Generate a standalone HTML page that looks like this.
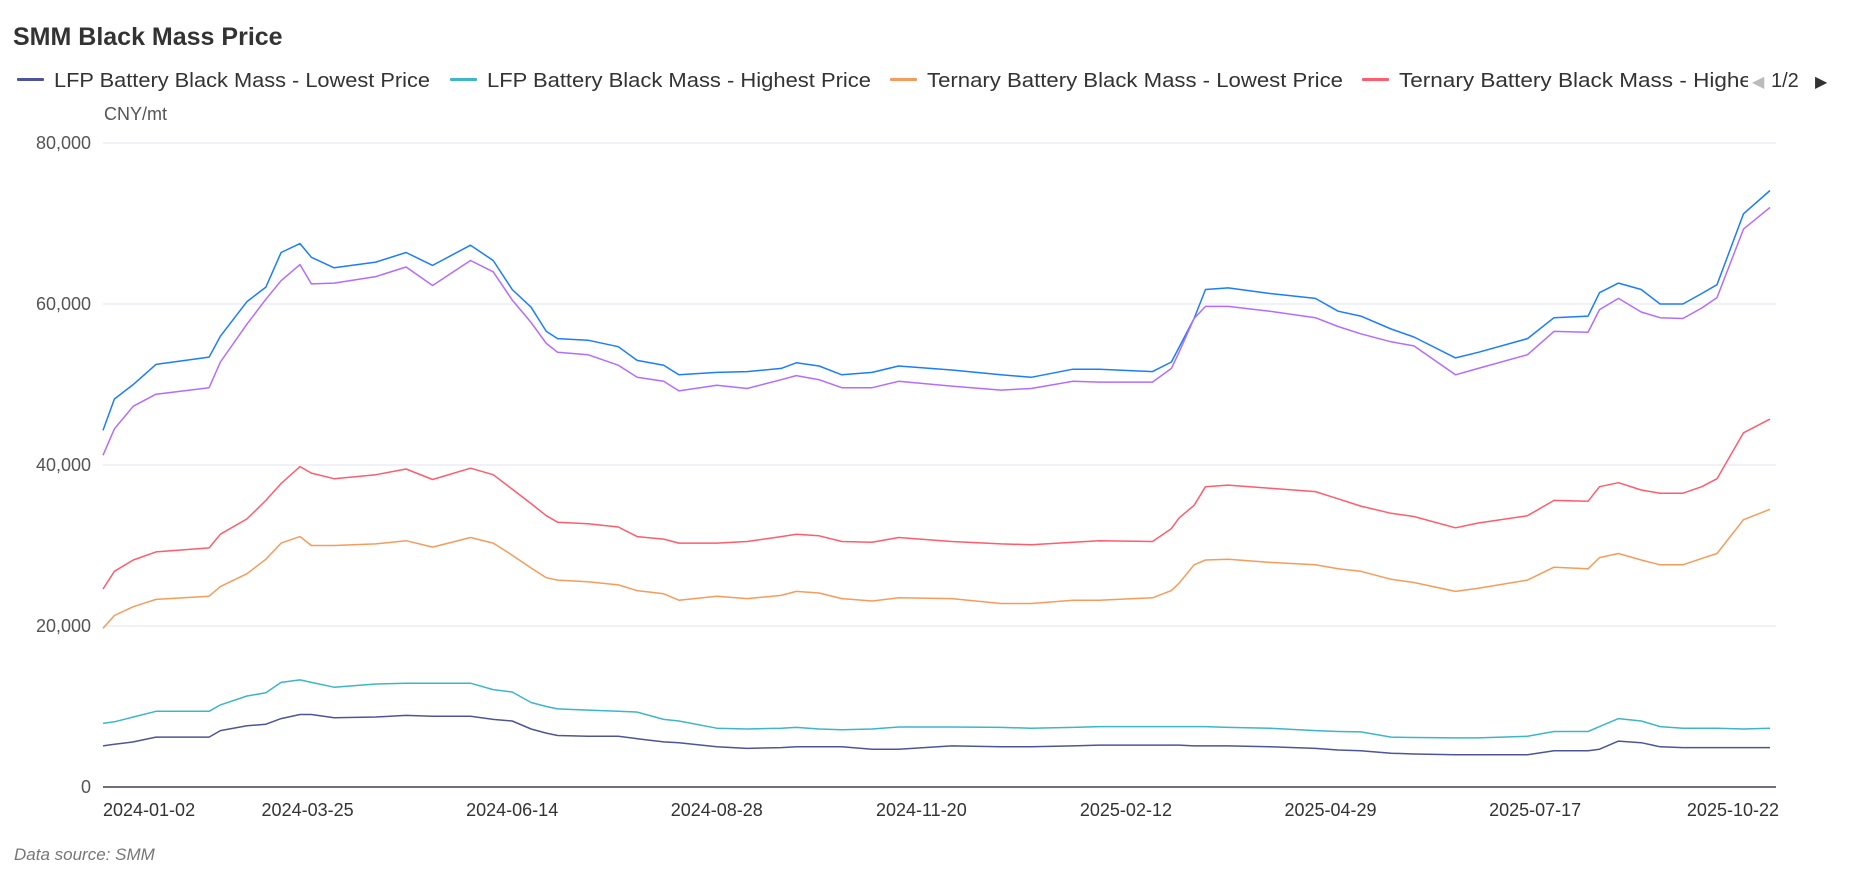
<!DOCTYPE html>
<html><head><meta charset="utf-8"><style>
html,body{margin:0;padding:0;background:#fff;}
svg{display:block;font-family:"Liberation Sans",sans-serif;}
</style></head><body>
<svg id="chart" width="1854" height="880" viewBox="0 0 1854 880" xmlns="http://www.w3.org/2000/svg">
<defs><clipPath id="legclip"><rect x="0" y="55" width="1748" height="50"/></clipPath></defs>
<text x="13" y="45" font-size="25" font-weight="bold" fill="#333">SMM Black Mass Price</text>
<g id="legend" clip-path="url(#legclip)"></g>
<text x="1752" y="87" font-size="16" fill="#bbb">◀</text>
<text x="1771" y="87" font-size="20" fill="#333">1/2</text>
<text x="1815" y="87" font-size="16" fill="#333">▶</text>
<text x="104" y="120" font-size="18" fill="#555">CNY/mt</text>
<g id="grid"></g>
<g id="series"></g>
<g id="xlabels"></g>
<text x="14" y="860" font-size="17" font-style="italic" fill="#777">Data source:  SMM</text>
</svg>
<script>
const dayIndex=[0,3,8,14,28,31,38,43,47,52,55,61,72,80,87,97,103,108,113,117,120,128,136,141,148,152,162,170,179,183,189,195,203,210,224,237,245,256,263,277,282,284,288,291,297,308,320,326,332,340,346,357,363,376,383,392,395,400,406,411,417,422,426,433,440];
const lfpLow=[5.1,5.3,5.6,6.2,6.2,7.0,7.6,7.8,8.5,9.0,9.0,8.6,8.7,8.9,8.8,8.8,8.4,8.2,7.2,6.7,6.4,6.3,6.3,6.0,5.6,5.5,5.0,4.8,4.9,5.0,5.0,5.0,4.7,4.7,5.1,5.0,5.0,5.1,5.2,5.2,5.2,5.2,5.1,5.1,5.1,5.0,4.8,4.6,4.5,4.2,4.1,4.0,4.0,4.0,4.5,4.5,4.7,5.7,5.5,5.0,4.9,4.9,4.9,4.9,4.9];
const lfpHigh=[7.9,8.1,8.7,9.4,9.4,10.2,11.3,11.7,13.0,13.3,13.0,12.4,12.8,12.9,12.9,12.9,12.1,11.8,10.5,10.0,9.7,9.55,9.4,9.3,8.4,8.2,7.3,7.2,7.3,7.4,7.2,7.1,7.2,7.45,7.45,7.4,7.3,7.4,7.5,7.5,7.5,7.5,7.5,7.5,7.4,7.3,7.0,6.9,6.85,6.2,6.15,6.1,6.1,6.3,6.9,6.9,7.5,8.5,8.2,7.5,7.3,7.3,7.3,7.2,7.3];
const ternLow=[19.7,21.3,22.4,23.3,23.7,24.9,26.5,28.3,30.3,31.1,30.0,30.0,30.2,30.6,29.8,31.0,30.3,28.8,27.2,26.0,25.7,25.5,25.1,24.4,24.0,23.2,23.7,23.4,23.8,24.3,24.1,23.4,23.1,23.5,23.4,22.8,22.8,23.2,23.2,23.5,24.4,25.3,27.6,28.2,28.3,27.9,27.6,27.1,26.8,25.8,25.4,24.3,24.7,25.7,27.3,27.1,28.5,29.0,28.2,27.6,27.6,28.4,29.0,33.2,34.5];
const ternHigh=[24.6,26.8,28.2,29.2,29.7,31.4,33.3,35.6,37.7,39.8,39.0,38.3,38.8,39.5,38.2,39.6,38.8,37.0,35.2,33.7,32.9,32.7,32.3,31.1,30.8,30.3,30.3,30.5,31.1,31.4,31.2,30.5,30.4,31.0,30.5,30.2,30.1,30.4,30.6,30.5,32.1,33.4,35.0,37.3,37.5,37.1,36.7,35.8,34.9,34.0,33.6,32.2,32.8,33.7,35.6,35.5,37.3,37.8,36.9,36.5,36.5,37.3,38.3,44.0,45.7];
const lcoHigh=[44.3,48.2,50.0,52.5,53.4,56.0,60.3,62.1,66.4,67.5,65.8,64.5,65.2,66.4,64.8,67.3,65.4,61.8,59.6,56.6,55.7,55.5,54.7,53.0,52.4,51.2,51.5,51.6,52.0,52.7,52.3,51.2,51.5,52.3,51.8,51.2,50.9,51.9,51.9,51.6,52.8,54.6,58.2,61.8,62.0,61.3,60.7,59.1,58.5,56.9,55.9,53.3,54.0,55.7,58.3,58.5,61.4,62.6,61.8,60.0,60.0,61.3,62.4,71.2,74.1];
const lcoLow=[41.2,44.5,47.3,48.8,49.6,52.8,57.5,60.6,62.9,64.9,62.5,62.6,63.4,64.6,62.3,65.4,64.0,60.5,57.7,55.1,54.0,53.7,52.4,50.9,50.4,49.2,49.9,49.5,50.6,51.1,50.6,49.6,49.6,50.4,49.8,49.3,49.5,50.4,50.3,50.3,52.0,54.0,58.2,59.7,59.7,59.1,58.3,57.2,56.3,55.3,54.8,51.2,52.0,53.7,56.6,56.5,59.3,60.7,59.0,58.3,58.2,59.5,60.8,69.3,72.0];
const yTicks=[0,20000,40000,60000,80000];
const yTickLabels=["0","20,000","40,000","60,000","80,000"];
const xTickIdx=[0,54,108,162,216,270,324,378,432];
const xTickLabels=["2024-01-02","2024-03-25","2024-06-14","2024-08-28","2024-11-20","2025-02-12","2025-04-29","2025-07-17","2025-10-22"];
const legendNames=["LFP Battery Black Mass - Lowest Price","LFP Battery Black Mass - Highest Price","Ternary Battery Black Mass - Lowest Price","Ternary Battery Black Mass - Highest Price"];

const NS="http://www.w3.org/2000/svg";
const X0=103,X1=1770,Y0=787,Y1=143,MAXI=440,YMAX=80000;
function xs(i){return X0+i/MAXI*(X1-X0);}
function ys(v){return Y0-v/YMAX*(Y0-Y1);}
function mk(tag,attrs,parent){const e=document.createElementNS(NS,tag);for(const k in attrs)e.setAttribute(k,attrs[k]);parent.appendChild(e);return e;}

const grid=document.getElementById('grid');
yTicks.forEach((t,i)=>{
  const l=mk('line',{x1:X0,x2:X1+6,y1:ys(t),y2:ys(t),stroke:i===0?'#6e7079':'#e0e6f1','stroke-width':i===0?2:1},grid);
  
  
  const tx=mk('text',{x:91,y:ys(t)+6,'text-anchor':'end','font-size':18,fill:'#555'},grid);
  tx.textContent=yTickLabels[i];
  
  
});

const xl=document.getElementById('xlabels');
xTickIdx.forEach((idx,i)=>{
  let anchor='middle',x=xs(idx);
  if(i===0){anchor='start';x=X0;}
  if(i===xTickIdx.length-1){anchor='end';x=1779;}
  const tx=mk('text',{x:x,y:816,'text-anchor':anchor,'font-size':18,fill:'#333'},xl);
  tx.textContent=xTickLabels[i];
  
  
});

const seriesDefs=[[lfpLow,'#4c5598','lfp-lowest-line'],[lfpHigh,'#3cb6c8','lfp-highest-line'],[ternLow,'#f59c5a','ternary-lowest-line'],[ternHigh,'#ff5c6c','ternary-highest-line'],[lcoHigh,'#1a7dff','series-5-line'],[lcoLow,'#b46cff','series-6-line']];
const sg=document.getElementById('series');
seriesDefs.forEach(([vals,col,name])=>{
  const d=vals.map((v,i)=>(i?'L':'M')+xs(dayIndex[i]).toFixed(1)+','+ys(v*1000).toFixed(1)).join(' ');
  const p=mk('path',{d:d,fill:'none',stroke:col,'stroke-width':1.5,'stroke-linejoin':'round'},sg);
  
  
});

const lg=document.getElementById('legend');
const legX=[17,450,890,1362];
const legW=[376,384,416,428];
legendNames.forEach((n,i)=>{
  const g=mk('g',{},lg);
  
  
  mk('rect',{x:legX[i],y:78,width:27,height:3,rx:1,fill:seriesDefs[i][1]},g);
  const t=mk('text',{x:legX[i]+37,y:87,'font-size':20,fill:'#333',textLength:legW[i],lengthAdjust:'spacingAndGlyphs'},g);
  t.textContent=n;
});
</script>
</body></html>
